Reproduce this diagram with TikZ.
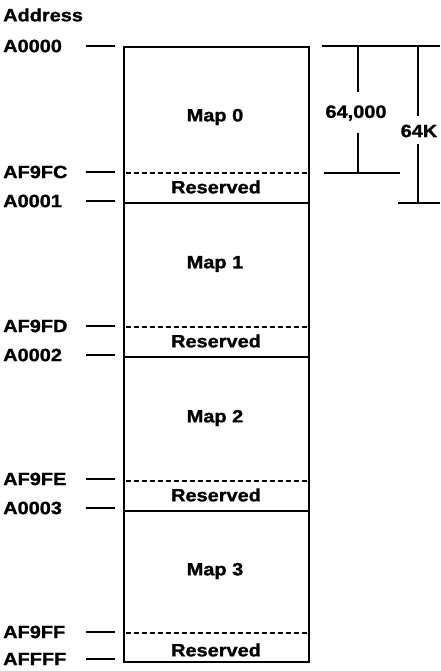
\documentclass[tikz,border=0pt]{standalone}
\usepackage{fontspec}
\setmainfont[BoldFeatures={FakeBold=1.2}]{Liberation Sans}
\newcommand{\sx}[1]{\scalebox{1.12}[1]{#1}}
\begin{document}
\begin{tikzpicture}[x=1pt,y=-1pt,
  lbl/.style={font=\fontsize{17.8}{19}\selectfont\bfseries, inner sep=0pt},
  addr/.style={lbl, anchor=west},
  tick/.style={line width=1.4pt},
  box/.style={line width=2pt},
  dsh/.style={line width=1.7pt, dash pattern=on 5pt off 3pt}]
\useasboundingbox (0,0) rectangle (440,671);
% box outline
\draw[box] (124,47) rectangle (309,662);
\foreach \y in {203,357,511} \draw[box] (124,\y) -- (309,\y);
\foreach \y in {173,327,481,633} \draw[dsh] (126,\y) -- (308,\y);
% address labels
\node[addr] (haddr) at (3,15) {\sx{Address}};
\foreach \t/\y in {A0000/46, AF9FC/172, A0001/201, AF9FD/326, A0002/355, AF9FE/479, A0003/508, AF9FF/632, AFFFF/659}{
  \node[addr] (l\t) at (3,\y) {\sx{\t}};
  \draw[tick] (86,\y) -- (115,\y);
}
% map labels
\foreach \i/\y in {0/117,1/264,2/418,3/571}
  \node[lbl] (map\i) at (215,\y) {\sx{Map \i}};
\foreach \i/\y in {0/187,1/341,2/495,3/650}
  \node[lbl] (res\i) at (216,\y) {\sx{Reserved}};
% dimensions
\draw[tick] (322,46) -- (440,46);
\draw[tick] (324,173) -- (400,173);
\draw[tick] (398,203) -- (440,203);
\node[lbl] (d1) at (356,113) {\sx{64,000}};
\node[lbl] (d2) at (419,131) {\sx{64K}};
\draw[tick] (358,46) -- (358,92);
\draw[tick] (358,133) -- (358,173);
\draw[tick] (418,46) -- (418,116);
\draw[tick] (418,144) -- (418,203);
\end{tikzpicture}
\end{document}
